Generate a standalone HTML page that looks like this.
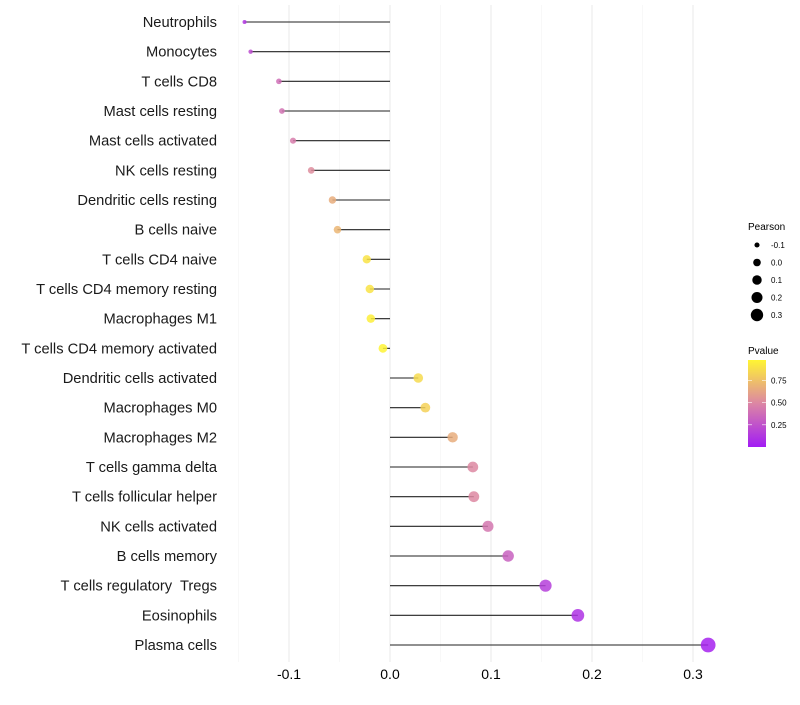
<!DOCTYPE html>
<html><head><meta charset="utf-8"><style>
body{margin:0;background:#fff;width:800px;height:700px;overflow:hidden;font-family:"Liberation Sans",sans-serif}
text{white-space:pre}
</style></head><body>
<svg id="chart" width="800" height="700" xmlns="http://www.w3.org/2000/svg">
<defs><linearGradient id="pg" x1="0" y1="1" x2="0" y2="0">
<stop offset="0" stop-color="#a21cf4"/><stop offset="0.5" stop-color="#dc86a4"/><stop offset="1" stop-color="#fff533"/></linearGradient></defs>
<g id="grid"></g><g id="marks"></g><g id="ylabels"></g><g id="xlabels"></g><g id="legend"></g>
</svg>
<script>
const categories=["Neutrophils","Monocytes","T cells CD8","Mast cells resting","Mast cells activated","NK cells resting","Dendritic cells resting","B cells naive","T cells CD4 naive","T cells CD4 memory resting","Macrophages M1","T cells CD4 memory activated","Dendritic cells activated","Macrophages M0","Macrophages M2","T cells gamma delta","T cells follicular helper","NK cells activated","B cells memory","T cells regulatory  Tregs","Eosinophils","Plasma cells"];
const pearson=[-0.144,-0.138,-0.110,-0.107,-0.096,-0.078,-0.057,-0.052,-0.023,-0.020,-0.019,-0.007,0.028,0.035,0.062,0.082,0.083,0.097,0.117,0.154,0.186,0.315];
const pvalue=[0.12,0.22,0.38,0.4,0.45,0.52,0.66,0.7,0.9,0.9,0.95,0.97,0.86,0.82,0.66,0.5,0.5,0.42,0.32,0.16,0.1,0.03];
const xTicks=[-0.1,0.0,0.1,0.2,0.3];
const xTickLabels=["-0.1","0.0","0.1","0.2","0.3"];
const minorTicks=[-0.15,-0.05,0.05,0.15,0.25];
const sizeLegend=[-0.1,0.0,0.1,0.2,0.3];
const colorLegend=[0.25,0.50,0.75];

const NS="http://www.w3.org/2000/svg";
const x=v=>390+v*1010;
const y=i=>22+i*(623/21);
const r=v=>Math.sqrt(Math.max(0,20+110*v));
function lerp(a,b,t){return a.map((c,i)=>Math.round(c+(b[i]-c)*t));}
function col(p){const t=Math.min(1,Math.max(0,p/0.98));const A=[162,28,244],B=[220,134,164],C=[255,245,51];
const c=t<0.5?lerp(A,B,t*2):lerp(B,C,(t-0.5)*2);return `rgb(${c})`;}
function mk(tag,attrs,parent){const e=document.createElementNS(NS,tag);for(const k in attrs)e.setAttribute(k,attrs[k]);parent.appendChild(e);return e;}
const grid=document.getElementById('grid'),marks=document.getElementById('marks'),yl=document.getElementById('ylabels'),xl=document.getElementById('xlabels'),lg=document.getElementById('legend');
minorTicks.forEach(v=>{const l=mk('line',{x1:x(v),x2:x(v),y1:5,y2:662,stroke:'#f3f3f3','stroke-width':0.6},grid);
});
xTicks.forEach((v,i)=>{const l=mk('line',{x1:x(v),x2:x(v),y1:5,y2:662,stroke:'#ebebeb','stroke-width':1.1},grid);

const t=mk('text',{x:x(v),y:679,'text-anchor':'middle','font-size':14,fill:'#000'},xl);t.textContent=xTickLabels[i];
});
categories.forEach((c,i)=>{const t=mk('text',{x:217,y:y(i)+5,'text-anchor':'end','font-size':14.7,fill:'#1a1a1a'},yl);t.textContent=c;

const l=mk('line',{x1:x(0),x2:x(pearson[i]),y1:y(i),y2:y(i),stroke:'#222','stroke-width':1.1},marks);

const p=mk('circle',{cx:x(pearson[i]),cy:y(i),r:r(pearson[i]),fill:col(pvalue[i]),'fill-opacity':0.85},marks);
});
let t=mk('text',{x:748,y:230,'font-size':10},lg);t.textContent='Pearson';

sizeLegend.forEach((v,i)=>{const cy=245+i*17.5;const c=mk('circle',{cx:757,cy:cy,r:r(v)*0.85,fill:'#000'},lg);

const tt=mk('text',{x:771,y:cy+3,'font-size':8},lg);tt.textContent=v.toFixed(1);
});
t=mk('text',{x:748,y:354,'font-size':10},lg);t.textContent='Pvalue';

const bar=mk('rect',{x:748,y:360,width:18,height:87,fill:'url(#pg)'},lg);

colorLegend.forEach(v=>{const cy=447-v/0.98*87;
mk('line',{x1:748,x2:752,y1:cy,y2:cy,stroke:'#fff','stroke-width':0.6},lg);mk('line',{x1:762,x2:766,y1:cy,y2:cy,stroke:'#fff','stroke-width':0.6},lg);
const tt=mk('text',{x:771,y:cy+3,'font-size':8},lg);tt.textContent=v.toFixed(2);
});
</script>
</body></html>
